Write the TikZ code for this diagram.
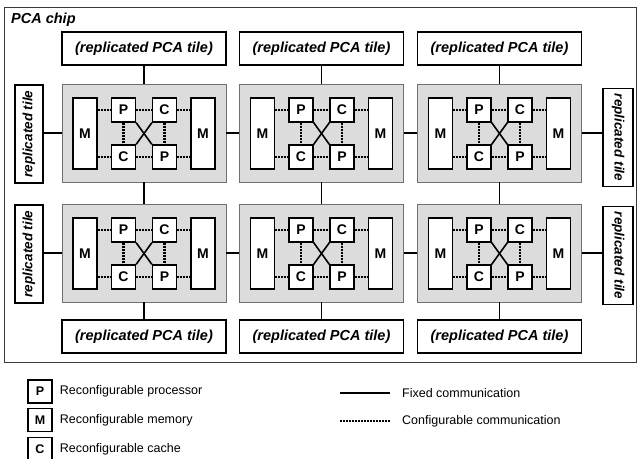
\documentclass[tikz,border=0pt]{standalone}
\usepackage{fontspec}
\setmainfont{Liberation Sans}
\usetikzlibrary{positioning}
\definecolor{TileGray}{HTML}{DCDCDC}
\definecolor{TileEdge}{HTML}{707070}
\definecolor{FrameInk}{HTML}{3A3A3A}
\newcommand{\boxfont}{\fontsize{14.5}{16}\selectfont\bfseries\itshape}
\newcommand{\sidefont}{\fontsize{13.5}{15}\selectfont\bfseries\itshape}
\newcommand{\unitfont}{\fontsize{14}{16}\selectfont\bfseries}
\newcommand{\keyfont}{\fontsize{12.5}{14}\selectfont}
\tikzset{
  tilebox/.style={draw=TileEdge, fill=TileGray, line width=0.9pt,
    minimum width=164pt, minimum height=98pt, inner sep=0pt},
  unitbox/.style={draw, fill=white, line width=1.3pt,
    minimum width=24pt, minimum height=24pt, inner sep=0pt, font=\unitfont},
  membox/.style={unitbox, minimum height=71pt},
  repbox/.style={draw, fill=white, line width=1.1pt, inner sep=0pt,
    minimum width=164pt, minimum height=33pt, font=\boxfont},
  sidebox/.style={draw, fill=white, line width=1.1pt, inner sep=0pt,
    minimum width=98pt, minimum height=28pt, font=\sidefont},
  fixed/.style={line width=1.2pt},
  cfglink/.style={line width=2.6pt, dash pattern=on 2pt off 1pt},
  keytext/.style={inner sep=0pt, font=\keyfont}
}

\begin{document}
\begin{tikzpicture}[x=1pt, y=-1pt]
  \useasboundingbox (0,0) rectangle (637,458);
  \draw[FrameInk, line width=0.9pt] (4,7) rectangle (636,362);
  \node[anchor=west, inner sep=0pt, font=\boxfont] (chip) at (11,20) {PCA chip};

  \foreach \r/\ty in {1/133,2/253}{
    \foreach \c/\tx in {1/144,2/321.5,3/499.5}{
      \node[tilebox] (t\r\c) at (\tx,\ty) {};
      \node[membox] (ml\r\c) at (\tx-59,\ty+0.5) {M};
      \node[membox] (mr\r\c) at (\tx+59,\ty+0.5) {M};
      \node[unitbox] (pa\r\c) at (\tx-20.5,\ty-23) {P};
      \node[unitbox] (ca\r\c) at (\tx+20.5,\ty-23) {C};
      \node[unitbox] (cb\r\c) at (\tx-20.5,\ty+24) {C};
      \node[unitbox] (pb\r\c) at (\tx+20.5,\ty+24) {P};
      \draw[cfglink] (ml\r\c.east |- pa\r\c.west) -- (pa\r\c.west);
      \draw[cfglink] (pa\r\c) -- (ca\r\c);
      \draw[cfglink] (ca\r\c.east) -- (ca\r\c.east -| mr\r\c.west);
      \draw[cfglink] (ml\r\c.east |- cb\r\c.west) -- (cb\r\c.west);
      \draw[cfglink] (cb\r\c) -- (pb\r\c);
      \draw[cfglink] (pb\r\c.east) -- (pb\r\c.east -| mr\r\c.west);
      \draw[cfglink] (pa\r\c) -- (cb\r\c);
      \draw[cfglink] (ca\r\c) -- (pb\r\c);
      \draw[line width=1.6pt] (pa\r\c.south east) -- (pb\r\c.north west);
      \draw[line width=1.6pt] (ca\r\c.south west) -- (cb\r\c.north east);
    }
  }

  \foreach \c/\tx in {1/144,2/321.5,3/499.5}{
    \node[repbox] (top\c) at (\tx,48.5) {(replicated PCA tile)};
    \node[repbox] (bot\c) at (\tx,336.5) {(replicated PCA tile)};
    \draw[fixed] (top\c) -- (t1\c);
    \draw[fixed] (t1\c) -- (t2\c);
    \draw[fixed] (t2\c) -- (bot\c);
  }

  \node[sidebox, rotate=90] (lt1) at (29,134) {replicated tile};
  \node[sidebox, rotate=90] (lt2) at (29,254) {replicated tile};
  \node[sidebox, rotate=-90, minimum height=30pt] (rt1) at (618,137.5) {replicated\hspace{4pt}tile};
  \node[sidebox, rotate=-90, minimum height=30pt] (rt2) at (618,255.5) {replicated\hspace{4pt}tile};

  \foreach \r in {1,2}{
    \draw[fixed] (lt\r.south |- t\r1.west) -- (t\r1.west);
    \draw[fixed] (t\r1) -- (t\r2);
    \draw[fixed] (t\r2) -- (t\r3);
    \draw[fixed] (t\r3.east) -- (t\r3.east -| rt\r.south);
  }

  \node[unitbox, minimum height=23pt, font=\fontsize{12.5}{14}\selectfont\bfseries] (kp) at (40,391.5) {P};
  \node[unitbox, minimum height=23pt, font=\fontsize{12.5}{14}\selectfont\bfseries] (km) at (40,420) {M};
  \node[unitbox, minimum height=23pt, font=\fontsize{12.5}{14}\selectfont\bfseries] (kc) at (40,449) {C};
  \node[keytext, right=7pt of kp] (kpt) {Reconfigurable processor};
  \node[keytext, right=7pt of km] (kmt) {Reconfigurable memory};
  \node[keytext, right=7pt of kc] (kct) {Reconfigurable cache};

  \coordinate (kf) at (340,393);
  \coordinate (kg) at (340,421);
  \node[keytext, anchor=west] (kft) at (402,393) {Fixed communication};
  \node[keytext, anchor=west] (kgt) at (402,421) {Configurable communication};
  \draw[fixed] (kf) -- ++(50,0);
  \draw[cfglink] (kg) -- ++(50,0);
\end{tikzpicture}
\end{document}
